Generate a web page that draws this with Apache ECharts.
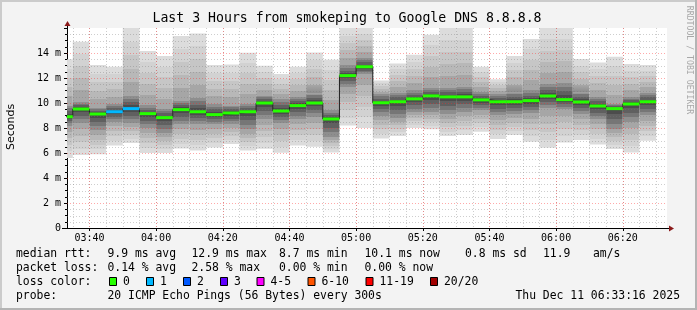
<!DOCTYPE html>
<html><head><meta charset="utf-8">
<script src="https://cdn.jsdelivr.net/npm/echarts@6/dist/echarts.min.js"></script>
<style>html,body{margin:0;padding:0;background:#f3f3f3}#c{width:697px;height:310px}</style>
</head><body><div id="c"></div>
<script>
// ---- data ----
const barStarts = ['03:30','03:35','03:40','03:45','03:50','03:55','04:00','04:05','04:10','04:15','04:20','04:25','04:30','04:35','04:40','04:45','04:50','04:55','05:00','05:05','05:10','05:15','05:20','05:25','05:30','05:35','05:40','05:45','05:50','05:55','06:00','06:05','06:10','06:15','06:20','06:25'];
const rttMin = [5.6,5.84,5.9,6.6,6.8,6.0,6.0,6.37,6.2,6.45,6.72,6.2,6.35,6.03,6.6,6.5,6.05,8.2,8.0,7.17,7.36,8.0,7.9,7.36,7.44,7.71,7.12,7.44,6.9,6.43,6.85,7.04,6.69,6.32,6.05,6.99];
const rttLo  = [8.2,8.4,7.8,8.5,8.4,8.0,7.6,8.3,8.3,8.3,8.3,7.9,8.7,8.4,8.7,8.9,7.3,11.3,12.3,9.0,8.8,9.3,9.3,9.1,9.3,9.4,9.0,9.1,9.2,9.6,9.5,9.1,8.7,7.9,8.5,9.0];
const rttMedian = [8.9,9.52,9.12,9.3,9.55,9.15,8.83,9.47,9.3,9.07,9.2,9.3,10.0,9.36,9.79,10.0,8.72,12.19,12.9,10.02,10.1,10.33,10.57,10.49,10.49,10.25,10.1,10.1,10.19,10.56,10.27,10.08,9.76,9.55,9.92,10.1];
const rttHi  = [9.8,10.1,9.6,9.9,10.6,9.8,9.5,10.2,10.4,9.9,9.8,9.9,10.6,10.3,10.5,10.8,9.4,13.0,13.6,10.7,10.8,11.0,11.2,11.2,11.3,10.9,10.7,10.9,11.0,11.5,11.6,10.9,10.5,9.9,10.5,10.8];
const rttMax = [13.5,14.9,13.04,12.9,16.0,14.16,13.76,15.36,15.57,13.04,13.09,14.03,12.99,12.32,12.9,14.05,13.47,16.0,16.0,11.8,13.17,13.87,15.47,16.0,16.0,12.9,11.9,13.77,15.12,16.0,16.0,13.52,13.25,13.71,13.12,13.04];
const lostPings = [0,0,0,1,1,0,0,0,0,0,0,0,0,0,0,0,0,0,0,0,0,0,0,0,0,0,0,0,0,0,0,0,0,0,0,0];
const stepSec = 300;
const rangeStart = '03:33:16', rangeEnd = '06:33:16';
const xTickLabels = ['03:40','04:00','04:20','04:40','05:00','05:20','05:40','06:00','06:20'];
const yTicks = [0,2,4,6,8,10,12,14,16];
const lossLabels = ['0','1','2','3','4-5','6-10','11-19','20/20'];
const lossColors = ['#26ff00','#00b8ff','#0059ff','#5e00ff','#ff00ff','#ff5500','#ff0000','#a10000'];
const titleText = 'Last 3 Hours from smokeping to Google DNS 8.8.8.8';
const rttStats = ['median rtt:','9.9 ms avg','12.9 ms max','8.7 ms min','10.1 ms now','0.8 ms sd','11.9','am/s'];
const lossStats = ['packet loss:','0.14 % avg','2.58 % max','0.00 % min','0.00 % now'];
const probeText = ['probe:','20 ICMP Echo Pings (56 Bytes) every 300s','Thu Dec 11 06:33:16 2025'];

// ---- helpers ----
function toSec(s){const p=s.split(':').map(Number);return p[0]*3600+p[1]*60+(p[2]||0);}
const xMin = toSec(rangeStart), xMax = toSec(rangeEnd);
function lossIdx(n){ if(n<=0)return 0; if(n===1)return 1; if(n===2)return 2; if(n===3)return 3; if(n<=5)return 4; if(n<=10)return 5; if(n<=19)return 6; return 7; }

const smokeData = barStarts.map((s,i)=>[toSec(s), toSec(s)+stepSec, rttMin[i], rttLo[i], rttMedian[i], rttHi[i], rttMax[i]]);
const medData = barStarts.map((s,i)=>[toSec(s), toSec(s)+stepSec, rttMedian[i], lostPings[i]]);
const stepLine = barStarts.map((s,i)=>[toSec(s), rttMedian[i]]);
stepLine.push([toSec(barStarts[barStarts.length-1])+stepSec, rttMedian[rttMedian.length-1]]);

// grid line positions (every 5 min minor, labelled ticks major; every 0.5 m minor, 2 m major)
const gridData = [];
for(let t=Math.ceil(xMin/300)*300; t<xMax; t+=300){ gridData.push([0,t,0]); }
xTickLabels.forEach(l=>gridData.push([0,toSec(l),1]));
for(let v=0.5; v<16; v+=0.5){ if(v%2!==0) gridData.push([1,v,0]); }
yTicks.forEach(v=>{ if(v>0 && v<16) gridData.push([1,v,1]); });

// shading style of the smoke: banded grey levels (outer -> inner)
const shadeOuter = [0xdc,0xd2,0xc6,0xb8,0xa6];
const shadeInner = [0x8e,0x76,0x60,0x4c];
function grey(n){const h=n.toString(16).padStart(2,'0');return '#'+h+h+h;}
function bandStops(a, b, shades, reverse){
  // hard-edged bands from offset a to b
  const out=[]; const n=shades.length;
  for(let k=0;k<n;k++){
    const c = grey(reverse? shades[n-1-k] : shades[k]);
    const s = a+(b-a)*k/n, e = a+(b-a)*(k+1)/n;
    out.push({offset:s,color:c},{offset:e,color:c});
  }
  return out;
}

const mono = '"DejaVu Sans Mono", monospace';
const chart = echarts.init(document.getElementById('c'), null, {renderer:'canvas'});

const option = {
  backgroundColor:'#f3f3f3',
  animation:false,
  grid:{left:67, top:28, width:600, height:200, show:true, backgroundColor:'#ffffff', borderWidth:0},
  xAxis:{type:'value', min:xMin, max:xMax,
    axisLine:{show:true, onZero:false, lineStyle:{color:'#000', width:1}},
    axisTick:{show:true, length:3, customValues:xTickLabels.map(toSec), lineStyle:{color:'#000'}},
    axisLabel:{show:true, customValues:xTickLabels.map(toSec), margin:5, fontFamily:mono, fontSize:10, color:'#000',
      formatter:v=>{const h=Math.floor(v/3600), m=Math.round((v%3600)/60); return String(h).padStart(2,'0')+':'+String(m).padStart(2,'0');}},
    splitLine:{show:false}},
  yAxis:{type:'value', min:0, max:16, interval:2,
    axisLine:{show:true, lineStyle:{color:'#000', width:1}},
    axisTick:{show:true, length:3, lineStyle:{color:'#000'}},
    minorTick:{show:true, splitNumber:4, length:2, lineStyle:{color:'#000'}},
    axisLabel:{margin:6, fontFamily:mono, fontSize:10, color:'#000', formatter:v=> v===16?'':(v===0?'0':v+' m')},
    splitLine:{show:false}},
  series:[
    {type:'custom', name:'smoke', z:1, data:smokeData, silent:true,
      renderItem:(params, api)=>{
        const cs = params.coordSys;
        let x0 = api.coord([api.value(0),0])[0];
        let x1 = api.coord([api.value(1),0])[0];
        x0 = Math.max(x0, cs.x); x1 = Math.min(x1, cs.x+cs.width);
        if(x1<=x0) return null;
        const yMinP = api.coord([0, api.value(2)])[1];
        const yMaxP = api.coord([0, api.value(6)])[1];
        const h = yMinP - yMaxP;
        const f = v => Math.min(1, Math.max(0, (api.coord([0,v])[1]-yMaxP)/h));
        const oHi = f(api.value(5)), oMed = f(api.value(4)), oLo = f(api.value(3));
        const stops = [].concat(
          bandStops(0, oHi, shadeOuter, false),
          bandStops(oHi, oMed, shadeInner, false),
          bandStops(oMed, oLo, shadeInner, true),
          bandStops(oLo, 1, shadeOuter, true)
        );
        return {type:'rect', shape:{x:x0, y:yMaxP, width:x1-x0, height:h},
          style:{fill:new echarts.graphic.LinearGradient(0,0,0,1,stops)}};
      }},
    {type:'custom', name:'grid', z:3, data:gridData, silent:true,
      renderItem:(params, api)=>{
        const cs = params.coordSys;
        const dir = api.value(0), v = api.value(1), major = api.value(2);
        const color = major ? 'rgba(255,40,40,0.4)' : 'rgba(120,120,120,0.36)';
        if(dir===0){
          const x = Math.round(api.coord([v,0])[0])+0.5;
          return {type:'line', shape:{x1:x, y1:cs.y, x2:x, y2:cs.y+cs.height},
            style:{stroke:color, lineWidth:1, lineDash:[1,2]}};
        } else {
          const y = Math.round(api.coord([xMin,v])[1])+0.5;
          return {type:'line', shape:{x1:cs.x, y1:y, x2:cs.x+cs.width, y2:y},
            style:{stroke:color, lineWidth:1, lineDash:[1,2]}};
        }
      }},
    {type:'line', name:'medianStep', z:4, data:stepLine, step:'end', symbol:'none', silent:true,
      lineStyle:{color:'#1e1e1e', width:1}, clip:true},
    {type:'custom', name:'median', z:5, data:medData, silent:true,
      renderItem:(params, api)=>{
        const cs = params.coordSys;
        let x0 = Math.max(api.coord([api.value(0),0])[0], cs.x);
        let x1 = Math.min(api.coord([api.value(1),0])[0], cs.x+cs.width);
        const y = api.coord([0, api.value(2)])[1];
        return {type:'rect', shape:{x:x0, y:y-1.5, width:x1-x0, height:3},
          style:{fill:lossColors[lossIdx(api.value(3))]}};
      }}
  ]
};
chart.setOption(option);

// ---- frame, arrows and texts ----
const origin = chart.convertToPixel({gridIndex:0},[xMin,0]);
const topLeft = chart.convertToPixel({gridIndex:0},[xMin,16]);
const rightEnd = chart.convertToPixel({gridIndex:0},[xMax,0]);
const ax = Math.round(origin[0]), ay = Math.round(origin[1]);
const g = [];
g.push({type:'line', shape:{x1:0,y1:1,x2:697,y2:1}, style:{stroke:'#cbcbcb', lineWidth:2}});
g.push({type:'line', shape:{x1:1,y1:0,x2:1,y2:310}, style:{stroke:'#cbcbcb', lineWidth:2}});
g.push({type:'line', shape:{x1:0,y1:309,x2:697,y2:309}, style:{stroke:'#b4b4b4', lineWidth:2}});
g.push({type:'line', shape:{x1:696,y1:0,x2:696,y2:310}, style:{stroke:'#b4b4b4', lineWidth:2}});
g.push({type:'line', z:10, shape:{x1:ax+0.5, y1:topLeft[1], x2:ax+0.5, y2:topLeft[1]-3}, style:{stroke:'#000', lineWidth:1}});
g.push({type:'line', z:10, shape:{x1:ax-5, y1:ay+0.5, x2:ax, y2:ay+0.5}, style:{stroke:'#000', lineWidth:1}});
g.push({type:'line', z:10, shape:{x1:rightEnd[0], y1:ay+0.5, x2:rightEnd[0]+3, y2:ay+0.5}, style:{stroke:'#000', lineWidth:1}});
g.push({type:'polygon', z:10, shape:{points:[[ax+0.5, topLeft[1]-7],[ax-2.5, topLeft[1]-2],[ax+3.5, topLeft[1]-2]]}, style:{fill:'#8b1a1a'}});
g.push({type:'polygon', z:10, shape:{points:[[rightEnd[0]+7, ay+0.5],[rightEnd[0]+2, ay-2.5],[rightEnd[0]+2, ay+3.5]]}, style:{fill:'#8b1a1a'}});
g.push({type:'text', x:347, y:19, style:{text:titleText, font:'13.2px '+mono, fill:'#000', align:'center', verticalAlign:'middle'}});
g.push({type:'text', x:11, y:127, rotation:Math.PI/2, style:{text:'Seconds', font:'11px "DejaVu Sans", sans-serif', fill:'#000', align:'center', verticalAlign:'middle'}});
g.push({type:'text', x:689, y:60, rotation:-Math.PI/2, style:{text:'RRDTOOL / TOBI OETIKER', font:'8.2px '+mono, fill:'#a8a8a8', align:'center', verticalAlign:'middle'}});
const legFont = '11.4px '+mono;
const rowY = [254, 268, 282, 296];
const rttX = [16, 107.5, 191.5, 279, 364.5, 465, 543, 593];
rttStats.forEach((t,i)=>g.push({type:'text', x:rttX[i], y:rowY[0], style:{text:t, font:legFont, fill:'#000', verticalAlign:'middle'}}));
const lossX = [16, 107.5, 191.5, 279, 364.5];
lossStats.forEach((t,i)=>g.push({type:'text', x:lossX[i], y:rowY[1], style:{text:t, font:legFont, fill:'#000', verticalAlign:'middle'}}));
g.push({type:'text', x:16, y:rowY[2], style:{text:'loss color:', font:legFont, fill:'#000', verticalAlign:'middle'}});
const boxX = [109, 146, 183, 220, 256.5, 307.5, 365.5, 430];
lossLabels.forEach((t,i)=>{
  g.push({type:'rect', shape:{x:boxX[i]+0.5, y:rowY[2]-4.5, width:7, height:8}, style:{fill:lossColors[i], stroke:'#000', lineWidth:1}});
  g.push({type:'text', x:boxX[i]+14, y:rowY[2], style:{text:t, font:legFont, fill:'#000', verticalAlign:'middle'}});
});
g.push({type:'text', x:16, y:rowY[3], style:{text:probeText[0], font:legFont, fill:'#000', verticalAlign:'middle'}});
g.push({type:'text', x:107.5, y:rowY[3], style:{text:probeText[1], font:legFont, fill:'#000', verticalAlign:'middle'}});
g.push({type:'text', x:680, y:rowY[3], style:{text:probeText[2], font:legFont, fill:'#000', align:'right', verticalAlign:'middle'}});
chart.setOption({graphic:g});
</script></body></html>
